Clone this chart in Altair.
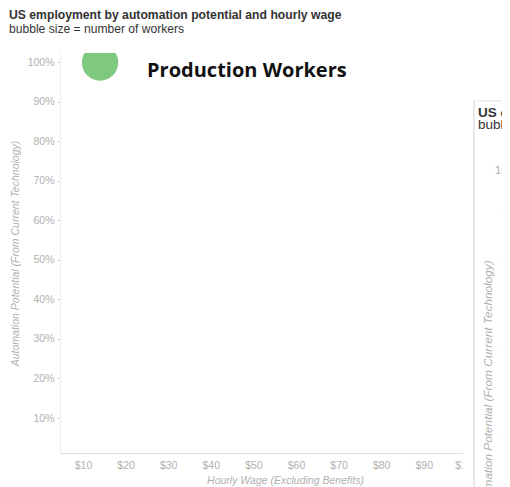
import altair as alt
import pandas as pd

# ---- data ----
occupations = ["Production Workers"]
hourly_wage = [14.0]
automation_potential = [1.0]
workers_millions = [9.0]

x_ticks = [10, 20, 30, 40, 50, 60, 70, 80, 90, 100]
y_ticks = [0.1, 0.2, 0.3, 0.4, 0.5, 0.6, 0.7, 0.8, 0.9, 1.0]
panel_labels = ["100%", "90%", "80%", "70%", "60%", "50%", "40%"]

title_text = "US employment by automation potential and hourly wage"
subtitle_text = "bubble size = number of workers"
x_title = "Hourly Wage (Excluding Benefits)"
y_title = "Automation Potential (From Current Technology)"

df = pd.DataFrame({
    "occupation": occupations,
    "wage": hourly_wage,
    "automation": automation_potential,
    "workers": workers_millions,
})

FONT = "Liberation Sans"
GRAY = "#b0b0b0"
W, H = 442, 400

x_enc = alt.X("wage:Q", scale=alt.Scale(domain=[4.6, 108.36], nice=False, zero=False),
              axis=alt.Axis(values=x_ticks, format="$.0f", title=x_title, grid=False,
                            ticks=False, domainColor="#dddddd", labelColor=GRAY,
                            labelFont=FONT, labelFontSize=10.5, labelPadding=7,
                            titleFont=FONT, titleFontSize=10.5, titleFontStyle="italic",
                            titleFontWeight="normal", titleColor=GRAY,
                            titleX=225, titleY=27, titleBaseline="middle", titleAlign="center"))
y_enc = alt.Y("automation:Q", scale=alt.Scale(domain=[0.0114, 1.024], nice=False, zero=False),
              axis=alt.Axis(values=y_ticks, format=".0%", title=y_title, grid=False,
                            ticks=True, tickSize=3, tickColor="#d0d0d0",
                            domainColor="#eeeeee", labelColor=GRAY, labelFont=FONT,
                            labelFontSize=10.5, labelPadding=3,
                            titleFont=FONT, titleFontSize=10.5, titleFontStyle="italic",
                            titleFontWeight="normal", titleColor=GRAY,
                            titleX=-45, titleY=200, titleBaseline="middle", titleAlign="center"))

base = alt.Chart(df)

bubbles = base.mark_circle(clip=True, opacity=1, color="#7ec87f").encode(
    x=x_enc, y=y_enc,
    size=alt.Size("workers:Q", scale=alt.Scale(domain=[0, 9], range=[0, 1320]), legend=None),
)

label = base.mark_text(align="left", baseline="alphabetic", dx=47, dy=15,
                       font="Open Sans", fontWeight="bold", fontSize=20, color="#111111").encode(
    x="wage:Q", y="automation:Q", text="occupation:N")

one = alt.Chart(pd.DataFrame({"a": [0]}))

# the bubble is cut off at the top edge of the plot area
top_mask = one.mark_rect(color="white").encode(
    x=alt.value(0), x2=alt.value(120), y=alt.value(-17), y2=alt.value(0))

# chart heading
h_title = one.mark_text(align="left", baseline="alphabetic", font=FONT, fontWeight="bold",
                        fontSize=12.2, color="#333333", text=title_text).encode(
    x=alt.value(-51), y=alt.value(-34))
h_sub = one.mark_text(align="left", baseline="alphabetic", font=FONT,
                      fontSize=12.1, color="#333333", text=subtitle_text).encode(
    x=alt.value(-51), y=alt.value(-20.5))

# overlapping second panel (screenshot artefact)
cover = one.mark_rect(color="white").encode(
    x=alt.value(403), x2=alt.value(442), y=alt.value(47), y2=alt.value(434))
panel_left = one.mark_rule(color="#cfcfcf", strokeWidth=1).encode(
    x=alt.value(414), y=alt.value(48), y2=alt.value(434))
panel_top = one.mark_rule(color="#e2e2e2", strokeWidth=1).encode(
    x=alt.value(414), x2=alt.value(442), y=alt.value(48))

p_title = one.mark_text(align="left", baseline="alphabetic", font=FONT, fontWeight="bold",
                        fontSize=13.5, color="#333333", text=title_text).encode(
    x=alt.value(418), y=alt.value(64))
p_sub = one.mark_text(align="left", baseline="alphabetic", font=FONT,
                      fontSize=13.5, color="#333333", text=subtitle_text).encode(
    x=alt.value(418), y=alt.value(76))
p_ytitle = one.mark_text(angle=270, align="center", baseline="middle", font=FONT,
                         fontStyle="italic", fontSize=11.8, color=GRAY, text=y_title).encode(
    x=alt.value(428), y=alt.value(334))

p_labels = []
for i, t in enumerate(panel_labels):
    p_labels.append(one.mark_text(align="right", baseline="middle", font=FONT,
                                  fontSize=11.8, color=GRAY, text=t).encode(
        x=alt.value(465), y=alt.value(117 + i * 44.5)))

chart = alt.layer(
    bubbles, top_mask, label, h_title, h_sub, cover, panel_left, panel_top,
    p_title, p_sub, p_ytitle, *p_labels
).properties(
    width=W, height=H,
    autosize=alt.AutoSizeParams(type="none"),
    padding={"left": 52, "top": 45, "right": 0, "bottom": 34},
    background="white",
).configure_view(stroke=None)

chart.save("out.html", embed_options={"renderer": "svg", "actions": False})
